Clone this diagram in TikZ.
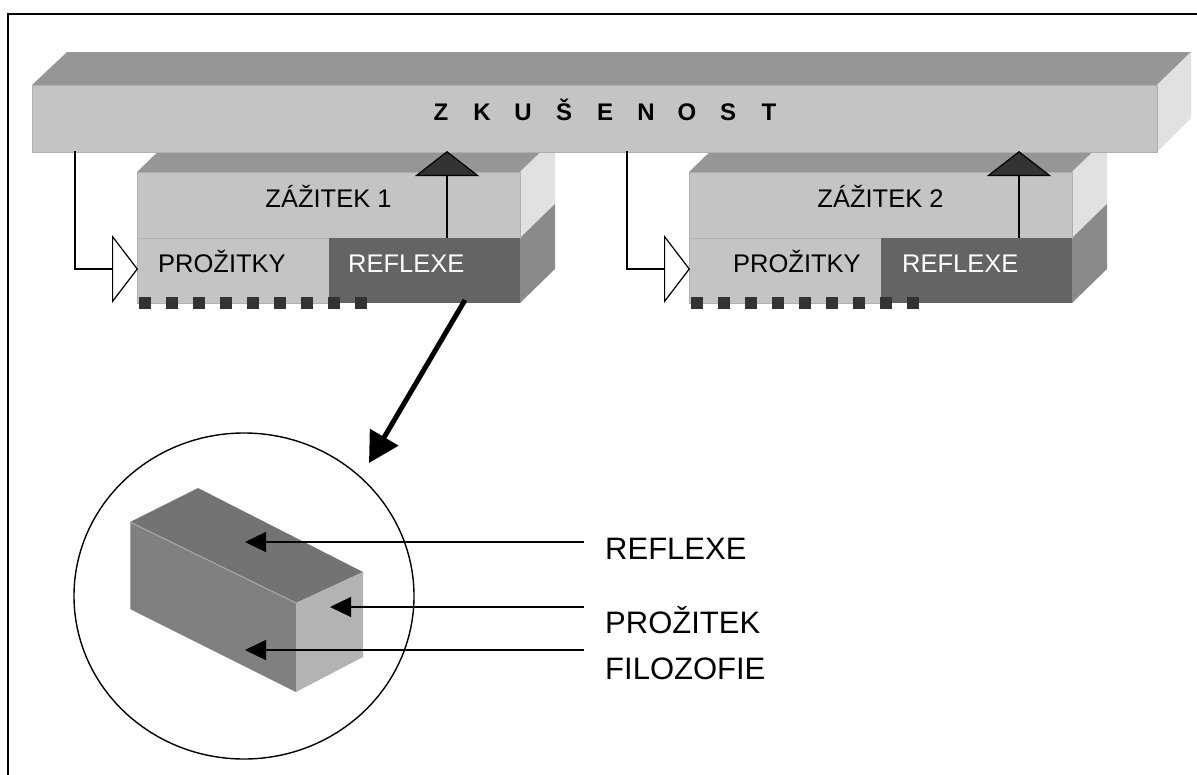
\documentclass[tikz,border=0pt]{standalone}
\usepackage{fontspec}
\setmainfont{Liberation Sans}
\usetikzlibrary{arrows.meta}
\definecolor{barfront}{HTML}{C4C4C4}
\definecolor{bartop}{HTML}{969696}
\definecolor{barside}{HTML}{E1E1E1}
\definecolor{edgegray}{HTML}{B0B0B0}
\definecolor{reflgray}{HTML}{646464}
\definecolor{sidedark}{HTML}{8A8A8A}
\definecolor{sqgray}{HTML}{333333}
\definecolor{cubetop}{HTML}{737373}
\definecolor{cubefront}{HTML}{808080}
\definecolor{cubeside}{HTML}{B3B3B3}
\begin{document}
\begin{tikzpicture}[x=1pt,y=-1pt,
  face/.style={fill=#1,draw=edgegray,line width=0.8pt},
  boxtext/.style={font=\fontsize{25.5}{28}\selectfont,inner sep=0pt},
  labeltext/.style={font=\fontsize{31}{34}\selectfont,inner sep=0pt,anchor=base west},
  bartext/.style={font=\bfseries\fontsize{24}{28}\selectfont,inner sep=0pt,anchor=base},
  inarrow/.style={line width=1.4pt,-{Triangle[length=26pt,width=68pt,fill=white,line width=1.2pt]}},
  uparrow/.style={line width=1.6pt,-{Triangle[length=25pt,width=64pt,fill=sqgray,line width=1.2pt]}},
  ptrarrow/.style={line width=1.2pt,-{Triangle[length=21pt,width=20pt]}},
  bigarrow/.style={line width=5pt,-{Triangle[length=30pt,width=32pt]}}
]
\useasboundingbox (0,0) rectangle (1197,774);
% frame
\draw[line width=1.8pt] (8,780) -- (8,14) -- (1205,14);

% the two ZAZITEK boxes
\foreach \dx in {0,552}{
  \begin{scope}[xshift=\dx pt]
    % top face
    \fill[bartop] (137,172) -- (172,138) -- (555,138) -- (520,172) -- cycle;
    % right faces
    \fill[barside] (520,172) -- (555,138) -- (555,204) -- (520,238) -- cycle;
    \fill[sidedark] (520,238) -- (555,204) -- (555,269) -- (520,303) -- cycle;
    % front faces
    \filldraw[face=barfront] (137,172) rectangle (520,238);
    \filldraw[face=barfront] (137,238) rectangle (329,303);
    \fill[reflgray] (329,238) rectangle (520,303);
    % dotted bottom
    \foreach \i in {0,...,8}
      \fill[sqgray] ({139+27*\i},297) rectangle ++(12,12);
  \end{scope}
}

% ZKUSENOST bar
\fill[bartop] (32,85) -- (67,52) -- (1191,52) -- (1157,85) -- cycle;
\fill[barside] (1157,85) -- (1191,52) -- (1191,118) -- (1157,152) -- cycle;
\filldraw[face=barfront] (32,85) rectangle (1157,152);
\foreach \l [count=\i from 0] in {Z,K,U,Š,E,N,O,S,T}
  \node[bartext] (zk\i) at ({441+41*\i},120) {\l};

% box texts
\node[boxtext,anchor=base] (zaz1) at (328.5,207) {ZÁŽITEK 1};
\node[boxtext,anchor=base] (zaz2) at (880.5,207) {ZÁŽITEK 2};
\node[boxtext,anchor=base west] (proz1) at (158,272) {PROŽITKY};
\node[boxtext,anchor=base west] (proz2) at (733,272) {PROŽITKY};
\node[boxtext,anchor=base west,text=white] (refl1) at (348,272) {REFLEXE};
\node[boxtext,anchor=base west,text=white] (refl2) at (902,272) {REFLEXE};

% connectors bar -> boxes
\coordinate (out1) at (75,151);
\coordinate (in1) at (138,269);
\coordinate (out2) at (627,151);
\coordinate (in2) at (690,269);
\draw[inarrow] (out1) |- (in1);
\draw[inarrow] (out2) |- (in2);

% connectors boxes -> bar
\coordinate (up1s) at (447,238);
\coordinate (up1e) at (447,151);
\coordinate (up2s) at (1019,238);
\coordinate (up2e) at (1019,151);
\draw[uparrow] (up1s) -- (up1e);
\draw[uparrow] (up2s) -- (up2e);

% magnifier circle
\draw[line width=1.4pt] (244,596) ellipse [x radius=170pt, y radius=163pt];
\coordinate (bigs) at (465,300);
\coordinate (bige) at (369,463);
\draw[bigarrow] (bigs) -- (bige);

% cube
\fill[cubetop] (130,522) -- (198,488) -- (363,572) -- (296,603) -- cycle;
\fill[cubefront] (130,522) -- (296,603) -- (296,692) -- (130,609) -- cycle;
\fill[cubeside] (296,603) -- (363,572) -- (363,657) -- (296,692) -- cycle;
\draw[line width=1pt,color=bartop!80!white] (130,522) -- (296,603);
\draw[line width=1pt,color=bartop!80!white] (130,522) -- (130,609);

% labels
\node[labeltext] (lrefl) at (605,559) {REFLEXE};
\node[labeltext] (lproz) at (605,633) {PROŽITEK};
\node[labeltext] (lfil) at (605,679) {FILOZOFIE};
\coordinate (a1s) at (584,542);
\coordinate (a1e) at (245,542);
\coordinate (a2s) at (584,607);
\coordinate (a2e) at (330,607);
\coordinate (a3s) at (584,650);
\coordinate (a3e) at (245,650);
\draw[ptrarrow] (a1s) -- (a1e);
\draw[ptrarrow] (a2s) -- (a2e);
\draw[ptrarrow] (a3s) -- (a3e);
\end{tikzpicture}
\end{document}
